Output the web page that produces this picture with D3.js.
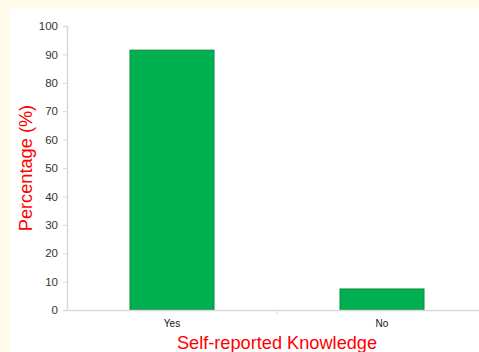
<!DOCTYPE html>
<html><head><meta charset="utf-8">
<script src="https://cdn.jsdelivr.net/npm/d3@7"></script>
<style>html,body{margin:0;padding:0;background:#fffbe8;overflow:hidden}svg{display:block}</style>
</head><body>
<script>
const categories = ["Yes", "No"];
const values = [91.5, 7.4];
const yTicks = [0,10,20,30,40,50,60,70,80,90,100];
const xTitle = "Self-reported Knowledge";
const yTitle = "Percentage (%)";

const W = 479, H = 352;
const svg = d3.select("body").append("svg").attr("width", W).attr("height", H);
svg.append("rect").attr("x",0).attr("y",0).attr("width",W).attr("height",H).attr("fill","#fffbe8");
svg.append("rect").attr("x",10).attr("y",8).attr("width",W-10).attr("height",H-8).attr("fill","#ffffff");

const x = d3.scaleBand().domain(categories).range([67, 487]).paddingInner(0.6).paddingOuter(0.3);
const y = d3.scaleLinear().domain([0,100]).range([310, 26]);

// bars
svg.selectAll("rect.bar").data(values).enter().append("rect")
  .attr("class","bar")
  .attr("x",(d,i)=>x(categories[i]))
  .attr("width",x.bandwidth())
  .attr("y",d=>y(d))
  .attr("height",d=>y(0)-y(d))
  .attr("fill","#00b050").attr("stroke","#0a8a40").attr("stroke-width",1);

// y axis
const ya = svg.append("g").attr("transform","translate(67,0)")
  .call(d3.axisLeft(y).tickValues(yTicks).tickSize(4).tickPadding(5));
ya.select(".domain").attr("stroke","#d9d9d9").attr("stroke-width",1.5);
ya.selectAll(".tick line").attr("stroke","#d9d9d9");
ya.selectAll("text").attr("fill","#333").attr("font-size","11.5px").attr("font-family","Liberation Sans, Arial, sans-serif");

// x axis
const xa = svg.append("g").attr("transform","translate(0,310)")
  .call(d3.axisBottom(x).tickSize(0).tickPadding(10));
xa.select(".domain").attr("stroke","#d9d9d9").attr("stroke-width",1.5);
xa.selectAll("text").attr("fill","#111").attr("font-size","10px").attr("font-family","Liberation Sans, Arial, sans-serif");
// category boundary tick
svg.append("line").attr("x1",x.step()+67).attr("x2",x.step()+67).attr("y1",310).attr("y2",314).attr("stroke","#d9d9d9");

// titles
svg.append("text").attr("x",277).attr("y",349).attr("text-anchor","middle")
  .attr("fill","#ff0000").attr("font-size","18.2px").attr("font-family","Liberation Sans, Arial, sans-serif")
  .text(xTitle);
svg.append("text").attr("transform","translate(32,168) rotate(-90)").attr("text-anchor","middle")
  .attr("fill","#ff0000").attr("font-size","18.2px").attr("font-family","Liberation Sans, Arial, sans-serif")
  .text(yTitle);
</script>
</body></html>
